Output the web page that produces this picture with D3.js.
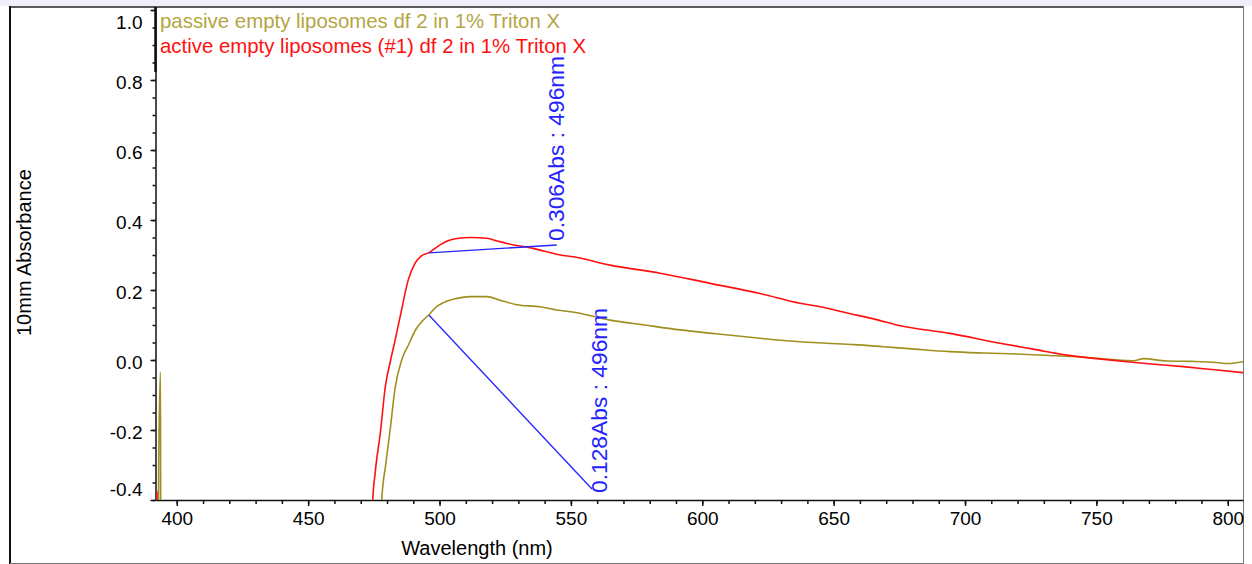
<!DOCTYPE html>
<html>
<head>
<meta charset="utf-8">
<script src="https://cdn.jsdelivr.net/npm/d3@7/dist/d3.min.js"></script>
<style>
  html, body { margin: 0; padding: 0; background: #fff; }
  svg { display: block; }
  text { font-family: "Liberation Sans", Arial, sans-serif; }
</style>
</head>
<body>
<svg id="chart" width="1252" height="564"></svg>
<script>
// ---------- data ----------
const xTicks = [400, 450, 500, 550, 600, 650, 700, 750, 800];
const yTicks = [-0.4, -0.2, 0.0, 0.2, 0.4, 0.6, 0.8, 1.0];
const yTickLabels = ["-0.4", "-0.2", "0.0", "0.2", "0.4", "0.6", "0.8", "1.0"];

const seriesNames = [
  "passive empty liposomes df 2 in 1% Triton X",
  "active empty liposomes (#1) df 2 in 1% Triton X"
];

// wavelength (nm), absorbance ; values below -0.4 are off-scale
const passive = [
  [393.0, -0.6], [393.1, -0.31], [393.8, -0.034], [393.9, -0.6],
  [477.8, -0.6], [478.0, -0.4], [479.5, -0.3], [481.2, -0.2], [483.1, -0.08],
  [485.6, 0.0], [488.3, 0.045], [490.8, 0.085], [493.3, 0.11], [495.8, 0.128],
  [498.5, 0.15], [501.5, 0.164], [506.6, 0.176], [511.6, 0.181], [518.0, 0.181],
  [523.0, 0.171], [529.4, 0.158], [538.3, 0.152], [544.6, 0.143], [552.2, 0.135],
  [564.9, 0.114], [578.0, 0.1], [591.5, 0.086], [605.0, 0.075], [622.0, 0.062],
  [637.2, 0.052], [647.4, 0.048], [658.0, 0.044], [668.9, 0.038], [681.0, 0.031],
  [694.3, 0.024], [707.0, 0.02], [719.6, 0.017], [732.0, 0.013], [745.0, 0.008],
  [755.0, 0.002], [764.0, -0.002], [768.0, 0.004], [776.8, -0.003], [786.0, -0.004],
  [795.8, -0.007], [800.0, -0.01], [805.8, -0.005]
];

const active = [
  [392.4, -0.6], [392.5, -0.375], [392.7, -0.6],
  [474.4, -0.6], [474.6, -0.4], [475.5, -0.323], [477.6, -0.2], [479.3, -0.08],
  [481.4, 0.0], [483.1, 0.057], [485.3, 0.134], [488.1, 0.229], [490.7, 0.277],
  [493.0, 0.297], [495.8, 0.306], [500.2, 0.329], [503.0, 0.34], [506.6, 0.347],
  [512.0, 0.35], [518.0, 0.348], [522.0, 0.34], [525.6, 0.333], [535.6, 0.319],
  [546.0, 0.3], [551.0, 0.295], [564.9, 0.271], [584.0, 0.248], [603.0, 0.219],
  [622.0, 0.19], [637.2, 0.162], [645.0, 0.152], [656.0, 0.133], [667.0, 0.114],
  [674.0, 0.1], [694.3, 0.076], [713.3, 0.048], [726.0, 0.031], [738.7, 0.014],
  [750.0, 0.004], [761.6, -0.005], [772.0, -0.012], [783.1, -0.019], [795.0, -0.028],
  [805.8, -0.036]
];

const annotationLabels = ["0.306Abs : 496nm", "0.128Abs : 496nm"];
const annotationWl = [496, 496];
const annotationAbs = [0.306, 0.128];

// ---------- layout ----------
const svg = d3.select("#chart");
const L = 155.5, R = 1243, T = 7, B = 500;
const x = d3.scaleLinear().domain([391.9, 805.8]).range([L, R]);
const y = d3.scaleLinear().domain([-0.4, 1.0086]).range([B, T]);

const olive = "#9e901e", oliveText = "#b3a643", red = "#ff1010", blue = "#2424ff";

// background / frame
svg.append("rect").attr("x", 0).attr("y", 0).attr("width", 1252).attr("height", 564).attr("fill", "#fff");
svg.append("rect").attr("x", 0).attr("y", 0).attr("width", 1252).attr("height", 6).attr("fill", "#eeeff8");
svg.append("line").attr("x1", 10).attr("x2", 1244).attr("y1", 7).attr("y2", 7).attr("stroke", "#222").attr("stroke-width", 1.5);
svg.append("line").attr("x1", 10).attr("x2", 10).attr("y1", 6).attr("y2", 564).attr("stroke", "#111").attr("stroke-width", 2);
svg.append("line").attr("x1", 1243.5).attr("x2", 1243.5).attr("y1", 6).attr("y2", 564).attr("stroke", "#777").attr("stroke-width", 1);
svg.append("line").attr("x1", 10).attr("x2", 1244).attr("y1", 563.5).attr("y2", 563.5).attr("stroke", "#777").attr("stroke-width", 1);

// clip
svg.append("clipPath").attr("id", "plotclip").append("rect")
  .attr("x", L).attr("y", T).attr("width", R - L).attr("height", B - T);

// ---------- axes ----------
const xMinor = d3.range(400, 801, 10);
const yMinor = d3.range(-40, 101, 5).map(v => v / 100);

const gxMinor = svg.append("g").attr("transform", `translate(0,${B})`)
  .call(d3.axisBottom(x).tickValues(xMinor).tickSize(4).tickFormat(""));
gxMinor.select(".domain").remove();
const gx = svg.append("g").attr("transform", `translate(0,${B})`)
  .call(d3.axisBottom(x).tickValues(xTicks).tickSize(6).tickSizeOuter(0).tickPadding(6).tickFormat(d3.format("d")));
gx.selectAll("text").attr("font-size", "19px").attr("fill", "#000").attr("font-family", "Liberation Sans, Arial, sans-serif");
gx.selectAll("line, path").attr("stroke", "#111").attr("stroke-width", 1.5);
gxMinor.selectAll("line").attr("stroke", "#111").attr("stroke-width", 1.5);

const gyMinor = svg.append("g").attr("transform", `translate(${L},0)`)
  .call(d3.axisLeft(y).tickValues(yMinor).tickSize(3).tickFormat(""));
gyMinor.select(".domain").remove();
gyMinor.selectAll("line").attr("stroke", "#111").attr("stroke-width", 1.5);
const gy = svg.append("g").attr("transform", `translate(${L},0)`)
  .call(d3.axisLeft(y).tickValues(yTicks).tickSize(5).tickSizeOuter(0).tickPadding(8)
    .tickFormat((d, i) => yTickLabels[i]));
gy.selectAll("line, path").attr("stroke", "#111").attr("stroke-width", 1.5);
gy.selectAll("text").attr("font-size", "19px").attr("fill", "#000")
  .attr("font-family", "Liberation Sans, Arial, sans-serif")
  .attr("dy", null)
  .attr("dominant-baseline", "central")
  .attr("y", d => Math.min(Math.max(y(d) + 2, 22), 489) - y(d));
// thicker top segment of y axis
svg.append("line").attr("x1", L).attr("x2", L).attr("y1", T).attr("y2", 72)
  .attr("stroke", "#111").attr("stroke-width", 2.5);

// axis titles
svg.append("text").attr("x", 477).attr("y", 555).attr("text-anchor", "middle")
  .attr("font-size", "20px").attr("fill", "#000").text("Wavelength (nm)");
svg.append("text").attr("transform", "translate(31,336) rotate(-90)").attr("text-anchor", "start")
  .attr("font-size", "20px").attr("fill", "#000").text("10mm Absorbance");

// ---------- lines ----------
const line = d3.line().x(d => x(d[0])).y(d => y(d[1])).curve(d3.curveMonotoneX);
const plot = svg.append("g").attr("clip-path", "url(#plotclip)");
plot.append("path").datum(passive).attr("d", line).attr("fill", "none")
  .attr("stroke", olive).attr("stroke-width", 1.6);
plot.append("path").datum(active).attr("d", line).attr("fill", "none")
  .attr("stroke", red).attr("stroke-width", 1.6);

// ---------- annotations ----------
// leader end points and label anchors (screen layout)
const leaderEnd = [[556.7, 245], [592, 489]];
const labelAnchor = [[564, 241], [607, 493]];
annotationLabels.forEach((lab, i) => {
  plot.append("line")
    .attr("x1", x(annotationWl[i])).attr("y1", y(annotationAbs[i]))
    .attr("x2", leaderEnd[i][0]).attr("y2", leaderEnd[i][1])
    .attr("stroke", blue).attr("stroke-width", 1.3);
  svg.append("text")
    .attr("transform", `translate(${labelAnchor[i][0]},${labelAnchor[i][1]}) rotate(-90)`)
    .attr("text-anchor", "start").attr("font-size", "22.8px").attr("fill", blue)
    .text(lab);
});

// ---------- legend ----------
svg.append("text").attr("x", 160).attr("y", 28).attr("font-size", "20.4px")
  .attr("fill", oliveText).text(seriesNames[0]);
svg.append("text").attr("x", 160).attr("y", 53).attr("font-size", "20.4px")
  .attr("fill", red).text(seriesNames[1]);
</script>
</body>
</html>
